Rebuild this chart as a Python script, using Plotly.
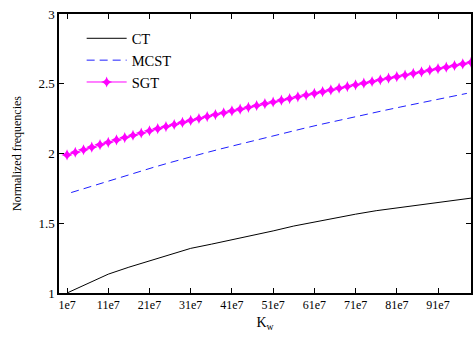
import plotly.graph_objects as go

# x in units of 1e7
ct_x = [1, 6, 11, 16, 21, 26, 31, 36, 41, 46, 51, 56, 61, 66, 71, 76, 81, 86, 91, 96, 99]
ct_y = [1.0, 1.07, 1.135, 1.185, 1.23, 1.275, 1.32, 1.35, 1.38, 1.41, 1.445, 1.48, 1.51,
        1.54, 1.565, 1.59, 1.61, 1.63, 1.65, 1.668, 1.68]

mcst_x = [2, 6, 10, 14, 18, 22, 26, 30, 34, 38, 42, 46, 50, 54, 58, 62, 66, 70, 74, 78,
          82, 86, 90, 94, 98]
mcst_y = [1.72, 1.757, 1.794, 1.83, 1.866, 1.901, 1.935, 1.969, 2.0, 2.031, 2.061, 2.091,
          2.12, 2.149, 2.177, 2.205, 2.232, 2.258, 2.284, 2.309, 2.334, 2.358, 2.383,
          2.407, 2.431]

sgt_x = list(range(1, 100, 2))
sgt_y = [1.990, 2.009, 2.027, 2.045, 2.063, 2.080, 2.097, 2.114, 2.131, 2.147,
         2.163, 2.178, 2.193, 2.208, 2.223, 2.237, 2.251, 2.265, 2.279, 2.292,
         2.305, 2.318, 2.331, 2.344, 2.357, 2.369, 2.382, 2.394, 2.406, 2.419,
         2.431, 2.443, 2.456, 2.468, 2.480, 2.492, 2.504, 2.516, 2.528, 2.540,
         2.551, 2.562, 2.574, 2.585, 2.597, 2.608, 2.619, 2.631, 2.642, 2.654]

x_tickvals = [1, 11, 21, 31, 41, 51, 61, 71, 81, 91]
x_ticktext = ["1e7", "11e7", "21e7", "31e7", "41e7", "51e7", "61e7", "71e7", "81e7", "91e7"]
y_tickvals = [1, 1.5, 2, 2.5, 3]
y_ticktext = ["1", "1.5", "2", "2.5", "3"]

font = "Liberation Serif, Times New Roman, serif"

fig = go.Figure()
fig.add_trace(go.Scatter(x=ct_x, y=ct_y, mode="lines", name="CT",
                         line=dict(color="#000000", width=1)))
fig.add_trace(go.Scatter(x=mcst_x, y=mcst_y, mode="lines", name="MCST",
                         line=dict(color="#1f1fff", width=1, dash="8px,5px")))
fig.add_trace(go.Scatter(x=sgt_x, y=sgt_y, mode="lines+markers", name="SGT",
                         line=dict(color="#ff00ff", width=1),
                         marker=dict(symbol="star-diamond", size=8, color="#ff00ff")))

fig.update_layout(
    width=474, height=337,
    margin=dict(l=59, r=1, t=14, b=44),
    paper_bgcolor="white", plot_bgcolor="white",
    font=dict(family=font, size=12, color="black"),
    showlegend=True,
    legend=dict(x=0.055, y=0.97, xanchor="left", yanchor="top",
                bgcolor="rgba(0,0,0,0)", borderwidth=0,
                font=dict(family=font, size=14.5), itemwidth=40,
                tracegroupgap=4),
)
fig.update_xaxes(range=[-0.95, 99], tickvals=x_tickvals, ticktext=x_ticktext,
                 ticks="inside", ticklen=5, tickcolor="black",
                 showline=True, linecolor="black", linewidth=1.5, mirror="ticks",
                 showgrid=False, zeroline=False,
                 title=dict(text="K<sub>w</sub>", font=dict(size=14), standoff=6),
                 tickfont=dict(size=12))
fig.update_yaxes(range=[1, 3], tickvals=y_tickvals, ticktext=y_ticktext,
                 ticks="inside", ticklen=5, tickcolor="black",
                 showline=True, linecolor="black", linewidth=1.5, mirror="ticks",
                 showgrid=False, zeroline=False,
                 title=dict(text="Normalized frequencies", font=dict(size=12), standoff=14),
                 tickfont=dict(size=13))

fig.write_html("out.html")
